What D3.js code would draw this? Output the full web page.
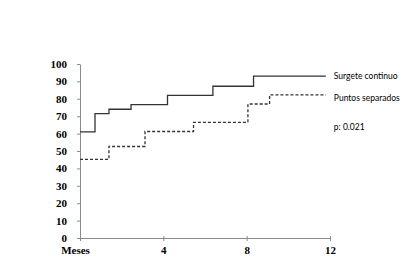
<!DOCTYPE html>
<html>
<head>
<meta charset="utf-8">
<script src="https://cdn.jsdelivr.net/npm/d3@7"></script>
<style>
  body { margin: 0; background: #fff; }
  .axis path, .axis line { stroke: #8a8a8a; }
  .axis text { font-family: "Liberation Serif", "DejaVu Serif", serif; font-weight: bold; font-size: 11px; fill: #000; }
  .lbl { font-family: Lato, "Open Sans", sans-serif; font-size: 8.5px; fill: #000; }
</style>
</head>
<body>
<div id="chart"></div>
<script>
// step data: month where each step starts, value (%)
var surgeteMonths = [0, 0.72, 1.39, 2.45, 4.2, 6.38, 8.33, 11.8];
var surgeteValues = [61, 71.5, 74, 76.7, 82, 87.2, 93, 93];
var puntosMonths = [0, 1.39, 3.12, 5.45, 8.06, 9.1, 11.8];
var puntosValues = [45.2, 52.6, 61.2, 66.5, 77, 82.3, 82.3];
var xTicks = [0, 4, 8, 12];
var xTickLabels = ["Meses", "4", "8", "12"];
var yTicks = [0, 10, 20, 30, 40, 50, 60, 70, 80, 90, 100];
var seriesNames = ["Surgete continuo", "Puntos separados"];
var pText = "p: 0.021";

var width = 411, height = 260;
var margin = {top: 64, right: 81, bottom: 22, left: 80};
var w = width - margin.left - margin.right;
var h = height - margin.top - margin.bottom;

var svg = d3.select("#chart").append("svg")
  .attr("width", width)
  .attr("height", height)
  .append("g")
  .attr("transform", "translate(" + margin.left + "," + margin.top + ")");

var x = d3.scaleLinear().domain([0, 12]).range([0, w]);
var y = d3.scaleLinear().domain([0, 100]).range([h, 0]);

svg.append("g")
  .attr("class", "y axis")
  .call(d3.axisLeft(y).tickValues(yTicks).tickSize(3).tickPadding(8).tickSizeOuter(0))
  .call(function(g) { g.selectAll("text").attr("dx", "-2"); });

svg.append("g")
  .attr("class", "x axis")
  .attr("transform", "translate(0," + h + ")")
  .call(d3.axisBottom(x).tickValues(xTicks).tickSize(3).tickPadding(5).tickSizeOuter(0)
    .tickFormat(function(d, i) { return xTickLabels[i]; }))
  .call(function(g) {
    g.selectAll(".tick line").attr("y1", -2);
    g.selectAll(".tick text").filter(function(d) { return d === 0; }).attr("dx", "-5");
  });

var line = d3.line()
  .x(function(d) { return x(d[0]); })
  .y(function(d) { return y(d[1]); })
  .curve(d3.curveStepAfter);

svg.append("path")
  .datum(d3.zip(surgeteMonths, surgeteValues))
  .attr("fill", "none")
  .attr("stroke", "#333")
  .attr("stroke-width", 1.3)
  .attr("d", line);

svg.append("path")
  .datum(d3.zip(puntosMonths, puntosValues))
  .attr("fill", "none")
  .attr("stroke", "#333")
  .attr("stroke-width", 1.3)
  .attr("stroke-dasharray", "3,2")
  .attr("d", line);

var labelX = x(11.8) + 8;
svg.append("text").attr("class", "lbl")
  .attr("x", labelX).attr("y", y(93)).attr("dy", "0.35em")
  .text(seriesNames[0]);
svg.append("text").attr("class", "lbl")
  .attr("x", labelX).attr("y", y(80.5)).attr("dy", "0.35em")
  .text(seriesNames[1]);
svg.append("text").attr("class", "lbl")
  .attr("x", labelX).attr("y", y(63.5)).attr("dy", "0.35em")
  .text(pText);
</script>
</body>
</html>
